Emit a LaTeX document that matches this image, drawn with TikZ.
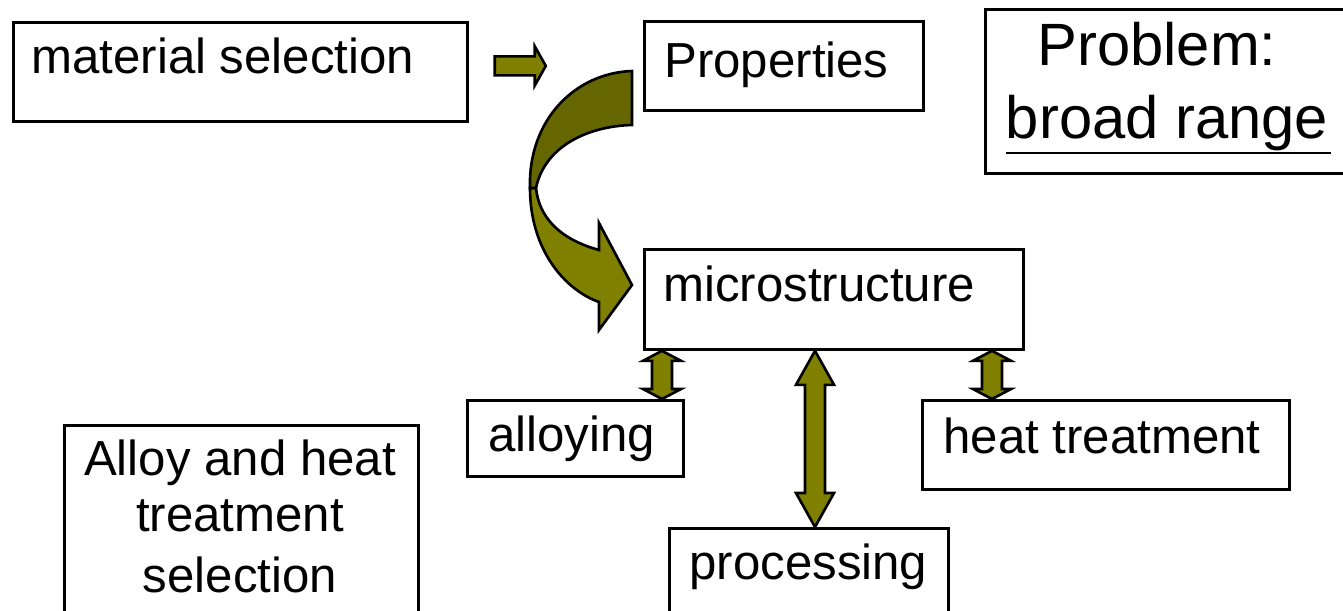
\documentclass[tikz,border=0pt]{standalone}
\usepackage{fontspec}
\setmainfont{Liberation Sans}
\usetikzlibrary{calc}

\definecolor{olivefill}{HTML}{808000}
\definecolor{olivedark}{HTML}{666600}
\newlength\px
\setlength\px{0.02cm}

\tikzset{
  box/.style={draw, line width=1.6pt, anchor=north west, inner ysep=0pt, align=flush left, font=\fontsize{28}{34}\selectfont},
  txt/.style={anchor=base, inner sep=0pt, font=\fontsize{28}{34}\selectfont},
  bigtxt/.style={anchor=base, inner sep=0pt, font=\fontsize{34}{40}\selectfont},
  blockarrow/.style={fill=olivefill, draw=black, line width=1.5pt},
}

% vertical double block arrow: top, bottom, head length
\newcommand\dblarrow[3]{%
  \filldraw[blockarrow] (#1) -- ++(19,#3) -- ++(-9,0) -- ($(#2)+(10,-#3)$) -- ++(9,0) -- (#2)
    -- ++(-19,-#3) -- ++(9,0) -- ($(#1)+(-10,#3)$) -- ++(-9,0) -- cycle;}

\begin{document}
\begin{tikzpicture}[x=0.02cm, y=-0.02cm]
    \useasboundingbox (0,0) rectangle (1343,610);
    \clip (0,0) rectangle (1343,610);

    \node[box, inner xsep=18\px, text width=418\px, text height=51\px, text depth=48\px] (mat) at (12,21) {material selection};
    \node[box, inner xsep=20\px, text width=239\px, text height=56\px, text depth=33\px] (prop) at (643,20) {Properties};
    \node[box, inner xsep=19\px, text width=341\px, text height=52\px, text depth=48\px] (micro) at (643,248) {microstructure};
    \node[box, inner xsep=21\px, text width=174\px, text height=51\px, text depth=25\px] (alloy) at (466,399) {alloying};
    \node[box, inner xsep=21\px, text width=325\px, text height=53\px, text depth=36\px] (heat) at (921,399) {heat treatment};
    \node[box, inner xsep=20\px, text width=239\px, text height=51\px, text depth=50\px] (proc) at (668,527) {processing};
    \node[box, minimum width=354\px, minimum height=230\px, inner sep=0pt] (sel) at (63,424) {};
    \node[box, minimum width=370\px, minimum height=164\px, inner sep=0pt] (prob) at (984,8) {};

    \node[txt] (selA) at (240,475) {Alloy and heat};
    \node[txt] (selB) at (240,531) {treatment};
    \node[txt] (selC) at (240,592) {selection};

    \node[bigtxt] (probA) at (1157,65) {Problem:};
    \node[bigtxt] (probB) at (1167,138) {broad range};
    \draw[line width=1.4pt] ($(probB.base west)+(0,15)$) -- ($(probB.base east)+(3,15)$);

    % small arrow
    \coordinate (r0) at ($(mat.east)+(26,-6)$);
    \filldraw[blockarrow] (r0) ++(0,-9.5) -- ++(40,0) -- ++(0,-10) -- ++(11,19.5) -- ++(-11,19.5) -- ++(0,-10) -- ++(-40,0) -- cycle;

    % curved arrow
    \filldraw[blockarrow] (530,188) .. controls (530,250) and (565,290) .. (599,302) -- (599,330) -- (632,285) -- (599,223)
        -- (599,250) .. controls (570,242) and (540,225) .. (536,188) -- cycle;
    \filldraw[blockarrow, fill=olivedark] (632,71) -- (632,125) .. controls (590,126) and (545,145) .. (536,188)
        -- (530,188) .. controls (528,120) and (575,73) .. (632,71) -- cycle;

    \path (662,0) coordinate (xl) (815,0) coordinate (xm) (992,0) coordinate (xr);
    \dblarrow{micro.south -| xl}{alloy.north -| xl}{10}
    \dblarrow{micro.south -| xm}{proc.north -| xm}{34}
    \dblarrow{micro.south -| xr}{heat.north -| xr}{10}
\end{tikzpicture}
\end{document}
